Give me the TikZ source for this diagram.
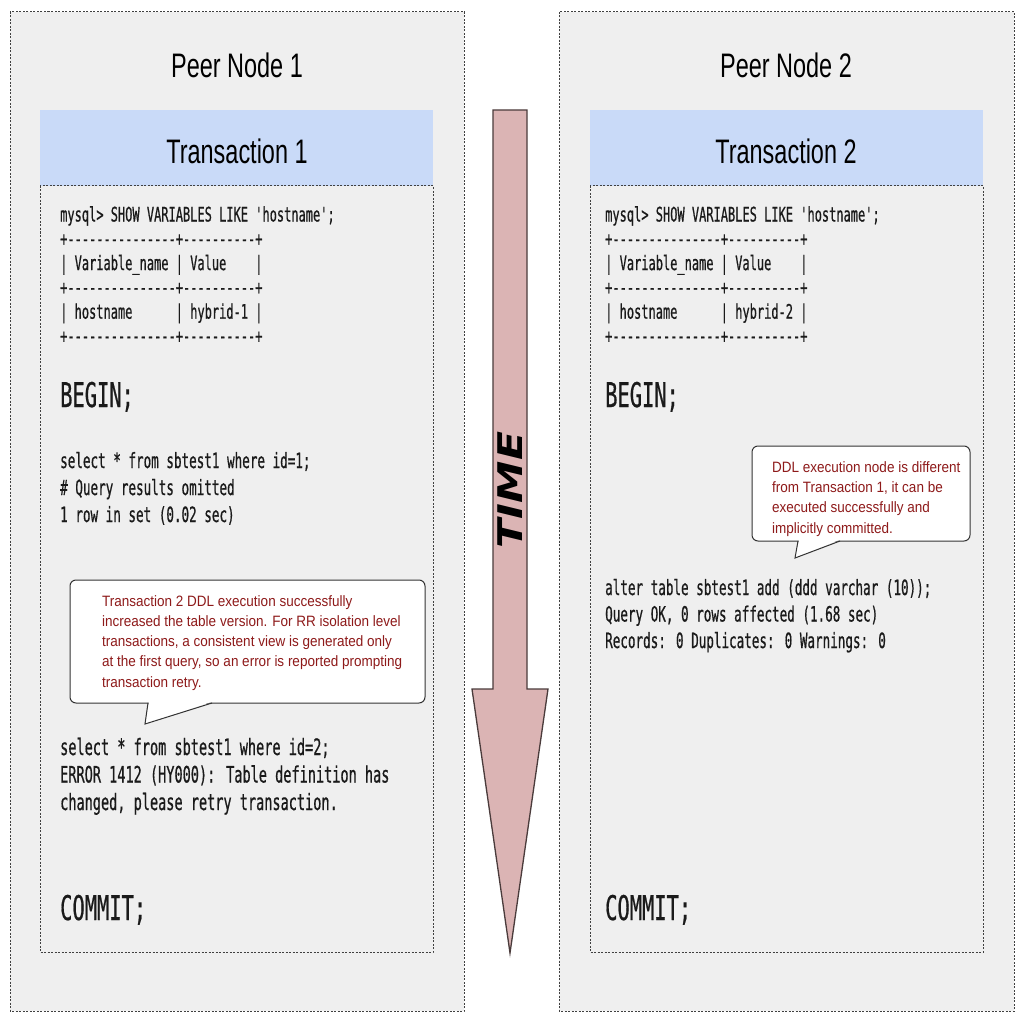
\documentclass[tikz,border=0pt]{standalone}
\usepackage{fontspec}
\setmainfont{Liberation Sans}
\newfontfamily\titlefont[FakeStretch=0.69]{Liberation Sans}
\newfontfamily\notefont[FakeStretch=0.9]{Liberation Sans}
\newfontfamily\codefont[FakeStretch=0.6,FakeBold=0.6,Ligatures=TeXOff]{DejaVu Sans Mono}
\newfontfamily\timefont[FakeStretch=1.25]{DejaVu Sans}
\definecolor{panelgray}{HTML}{EFEFEF}
\definecolor{headblue}{HTML}{C9DAF8}
\definecolor{timepink}{HTML}{DBB4B4}
\definecolor{timeedge}{HTML}{4A3B3B}
\definecolor{notered}{HTML}{8E1A1A}
\definecolor{codeblack}{HTML}{1A1A1A}
\begin{document}
\begin{tikzpicture}[x=1pt,y=-1pt,
  panel/.style={draw=black!75, fill=panelgray, line width=1pt, dash pattern=on 2pt off 1.5pt},
  codebox/.style={draw=black!75, line width=1pt, dash pattern=on 2pt off 1.5pt},
  title/.style={font=\titlefont\fontsize{34}{40}\selectfont, anchor=base, inner sep=0pt},
  code/.style={font=\codefont\fontsize{20}{24.3}\selectfont, anchor=base west, align=left, inner sep=0pt, text=codeblack},
  bigcode/.style={code, font=\codefont\fontsize{34}{40}\selectfont},
  note/.style={font=\notefont\fontsize{15}{20.2}\selectfont, anchor=base west, align=left, inner sep=0pt, text=notered},
  callout/.style={draw=black!80, fill=white, line width=1pt, rounded corners=6pt}]
  \useasboundingbox (0,0) rectangle (1024,1024);
  % the two peer nodes
  \draw[panel] (10,12) rectangle (464,1011);
  \draw[panel] (559,12) rectangle (1014,1011);
  \fill[headblue] (40,110) rectangle (433,186);
  \fill[headblue] (590,110) rectangle (983,186);
  \draw[codebox] (40,186) rectangle (433,952);
  \draw[codebox] (590,186) rectangle (983,952);
  \node[title] (peer1) at (237,78) {Peer Node 1};
  \node[title] (peer2) at (786,78) {Peer Node 2};
  \node[title] (txn1) at (237,164) {Transaction 1};
  \node[title] (txn2) at (786,164) {Transaction 2};

  % time arrow
  \draw[fill=timepink, draw=timeedge, line width=1.3pt]
    (493,110) -- (527,110) -- (527,689) -- (548,689) -- (510,953)
    -- (472,689) -- (493,689) -- cycle;
  \node[font=\timefont\bfseries\itshape\fontsize{34}{40}\selectfont, rotate=90] (time) at (510,490) {TIME};

  % transaction 1 (multi-line nodes sit on their last baseline)
  \node[code] (show1) at (60,343) {mysql> SHOW VARIABLES LIKE 'hostname';\\
    +---------------+----------+\\
    |~Variable\_name~|~Value~~~~|\\
    +---------------+----------+\\
    |~hostname~~~~~~|~hybrid-1~|\\
    +---------------+----------+};
  \node[bigcode] (begin1) at (60,407) {BEGIN;};
  \node[code, font=\codefont\fontsize{21}{27}\selectfont] (query1) at (60,522) {select * from sbtest1 where id=1;\\
    \# Query results omitted\\
    1 row in set (0.02 sec)};
  \draw[callout] (70,580) rectangle (425,703);
  \fill[white] (149,702) -- (211,702) -- (145,724) -- cycle;
  \draw[line width=1pt, draw=black!80] (148,703) -- (145,724) -- (212,703);
  \node[note] (note1) at (102,687) {Transaction 2 DDL execution successfully\\
    increased the table version. For RR isolation level\\
    transactions, a consistent view is generated only\\
    at the first query, so an error is reported prompting\\
    transaction retry.};
  \node[code, font=\codefont\fontsize{22.6}{27.5}\selectfont] (query2) at (60,810) {select * from sbtest1 where id=2;\\
    ERROR 1412 (HY000): Table definition has\\
    changed, please retry transaction.};
  \node[bigcode] (commit1) at (60,920) {COMMIT;};

  % transaction 2
  \node[code] (show2) at (605,343) {mysql> SHOW VARIABLES LIKE 'hostname';\\
    +---------------+----------+\\
    |~Variable\_name~|~Value~~~~|\\
    +---------------+----------+\\
    |~hostname~~~~~~|~hybrid-2~|\\
    +---------------+----------+};
  \node[bigcode] (begin2) at (605,407) {BEGIN;};
  \draw[callout] (752,446) rectangle (970,541);
  \fill[white] (799,540) -- (839,540) -- (795,558) -- cycle;
  \draw[line width=1pt, draw=black!80] (798,541) -- (795,558) -- (840,541);
  \node[note] (note2) at (772,533) {DDL execution node is different\\
    from Transaction 1, it can be\\
    executed successfully and\\
    implicitly committed.};
  \node[code, font=\codefont\fontsize{21}{26.5}\selectfont] (alter) at (605,648) {alter table sbtest1 add (ddd varchar (10));\\
    Query OK, 0 rows affected (1.68 sec)\\
    Records: 0 Duplicates: 0 Warnings: 0};
  \node[bigcode] (commit2) at (605,920) {COMMIT;};
\end{tikzpicture}
\end{document}
